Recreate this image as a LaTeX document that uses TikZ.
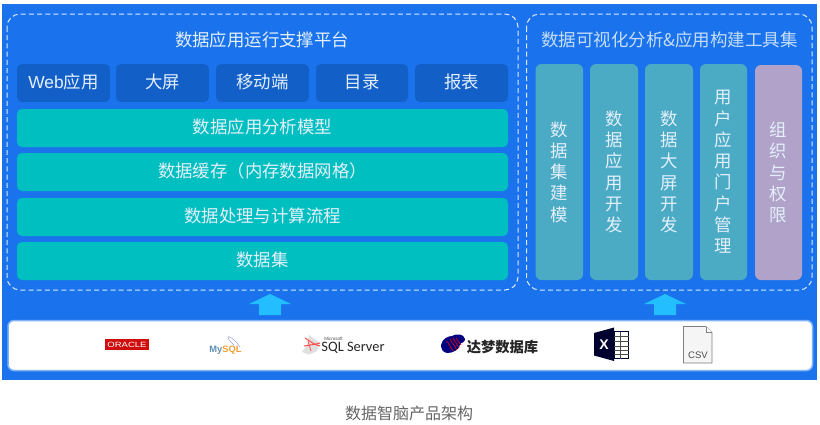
\documentclass[tikz,border=0pt]{standalone}
\usepackage{fontspec}
\setmainfont{Noto Sans CJK SC}
\newfontfamily\latinf{Liberation Sans}
\newfontfamily\carl{Carlito}
\usetikzlibrary{shapes.geometric}
\definecolor{bgblue}{HTML}{1A73EC}
\definecolor{darkbtn}{HTML}{135FC8}
\definecolor{teal}{HTML}{00BFC0}
\definecolor{toolc}{HTML}{4BAAC4}
\definecolor{purp}{HTML}{B0A2C8}
\definecolor{arrowc}{HTML}{22BEFF}
\definecolor{txt}{HTML}{E4F0FC}
\definecolor{captionc}{HTML}{666666}
\tikzset{
  x=1pt,y=-1pt,
  frame/.style={draw=white!85!bgblue,dash pattern=on 5pt off 3.2pt,line width=1pt,rounded corners=13pt},
  btn/.style={fill=darkbtn,rounded corners=5pt},
  bar/.style={fill=teal,draw=teal!70!bgblue,line width=.4pt,rounded corners=5pt},
  tool/.style={fill=toolc,rounded corners=6pt},
  tx/.style={text=txt,font=\fontsize{17.4}{17.4}\selectfont,inner sep=0pt,yshift=.8pt},
  vt/.style={text=txt,font=\fontsize{17.4}{21.3}\selectfont,align=center,inner sep=0pt},
  up/.style={fill=arrowc}
}
\newcommand{\boxn}[6]{\path[#1] (#3,#4) rectangle (#5,#6) node[pos=.5,inner sep=0pt] (#2) {};}
\begin{document}
\begin{tikzpicture}
\useasboundingbox (0,0) rectangle (820,424);
\fill[white] (0,0) rectangle (820,424);
\fill[bgblue] (2,4) rectangle (817,379.5);
\draw[frame] (7,14) rectangle (518,290);
\draw[frame] (526.5,14) rectangle (812,290);
\node[tx] (t1) at (262,41) {数据应用运行支撑平台};
\node[tx,text=txt!85!bgblue,font=\fontsize{17.5}{17.5}\selectfont] (t2) at (669.5,41) {数据可视化分析\&应用构建工具集};
% buttons
\boxn{btn}{b1}{17}{64}{110}{102}
\boxn{btn}{b2}{116}{64}{209}{102}
\boxn{btn}{b3}{216}{64}{309}{102}
\boxn{btn}{b4}{316}{64}{408}{102}
\boxn{btn}{b5}{415}{64}{508}{102}
\node[tx] at (b1) {{\latinf Web}应用};
\node[tx] at (b2) {大屏};
\node[tx] at (b3) {移动端};
\node[tx] at (b4) {目录};
\node[tx] at (b5) {报表};
% bars
\boxn{bar}{r1}{17}{109}{508}{147}
\boxn{bar}{r2}{17}{153}{508}{191}
\boxn{bar}{r3}{17}{198}{508}{236}
\boxn{bar}{r4}{17}{242}{508}{280}
\node[tx] at (r1) {数据应用分析模型};
\node[tx] at (r2) {数据缓存（内存数据网格）};
\node[tx] at (r3) {数据处理与计算流程};
\node[tx] at (r4) {数据集};
% tool columns
\boxn{tool}{c1}{535.5}{64}{583}{280}
\boxn{tool}{c2}{590}{64}{638}{280}
\boxn{tool}{c3}{645}{64}{693}{280}
\boxn{tool}{c4}{700}{64}{747}{280}
\boxn{fill=purp,rounded corners=6pt}{c5}{755}{65}{802}{280}
\node[vt] at (c1) {数\\据\\集\\建\\模};
\node[vt] at (c2) {数\\据\\应\\用\\开\\发};
\node[vt] at (c3) {数\\据\\大\\屏\\开\\发};
\node[vt] at (c4) {用\\户\\应\\用\\门\\户\\管\\理};
\node[vt] at (c5) {组\\织\\与\\权\\限};
% arrows
\coordinate (a1t) at (270,294);
\coordinate (a2t) at (665,294);
\fill[up] (a1t) -- ++(21,10) -- ++(-10,0) -- ++(0,11) -- ++(-22,0) -- ++(0,-11) -- ++(-10,0) -- cycle;
\fill[up] (a2t) -- ++(21,10) -- ++(-10,0) -- ++(0,11) -- ++(-22,0) -- ++(0,-11) -- ++(-10,0) -- cycle;
% source band
\draw[fill=white,draw=white!45!bgblue,line width=1.5pt,rounded corners=6pt] (8,320.5) rectangle (812.5,370.5);
% Oracle
\fill[red!80!black!95!white] (105.3,339) rectangle (148.7,350);
\node[inner sep=0pt,text=white,font=\latinf\fontsize{7.6}{7.6}\selectfont,xscale=1.25] (ora) at (127,344.6) {ORACLE};
% MySQL
\node[inner sep=0pt,font=\latinf\bfseries\fontsize{9.3}{9.3}\selectfont] (my) at (225.5,350.5) {\textcolor[HTML]{5F8FB4}{My}\textcolor[HTML]{F0A030}{SQL}};
\draw[draw=gray!50!blue!50!white,line width=.5pt] (228,336.5) .. controls (233,338) and (236,341) .. (240,347);
\draw[draw=gray!50!blue!50!white,line width=.5pt] (228,336.5) .. controls (228,340) and (231,342) .. (234,345);
% SQL Server
\fill[gray!25] (302,352) -- (307,345) -- (309,335) -- (320,343) -- (317,351) -- (309,354.5) -- cycle;
\draw[red!60!pink,line width=1pt] (305,338) .. controls (311,342) and (315,345) .. (320,346);
\draw[red!60!pink,line width=1pt] (304,346) .. controls (309,345) and (313,345) .. (320,343);
\draw[red!60!pink,line width=.7pt] (308,341) -- (311,351);
\node[inner sep=0pt,text=black!85,font=\carl\fontsize{14.4}{14.4}\selectfont] (sql) at (353,347.5) {SQL Server};
\node[inner sep=0pt,text=black!70,font=\latinf\fontsize{4.5}{4.5}\selectfont] (ms) at (333.5,338.5) {Microsoft};
% Dameng
\fill[blue!50!black] (441,345) .. controls (442,339) and (448,336) .. (452,336) .. controls (456,333.5) and (464,333.5) .. (465,339) .. controls (465.5,342) and (461,343) .. (460,344) .. controls (461,349) and (452,353.5) .. (447,353) .. controls (443,352.5) and (441,349) .. (441,345) -- cycle;
\draw[red!85!black,line width=.7pt] (450,339) -- (457,350) (453,338) -- (459,348) (447,341) -- (453,351) (456,338) -- (461,345);
\node[inner sep=0pt,text=black!85,font=\bfseries\fontsize{14.3}{14.3}\selectfont] (dm) at (502.5,347) {达梦数据库};
% Excel
\fill[black!82!blue] (594,333) -- (614,327.5) -- (614,361) -- (594,355.5) -- cycle;
\node[inner sep=0pt,text=white,font=\latinf\bfseries\fontsize{14}{14}\selectfont] (xl) at (604,344.5) {X};
\draw[black!82!blue,line width=.9pt] (614,331.5) rectangle (628.5,358.5);
\foreach \yy in {336,341,346,350,354} \draw[black!70,line width=.5pt] (614,\yy) -- (628.5,\yy);
\draw[black!70,line width=.5pt] (620,331.5) -- (620,358.5);
% CSV
\draw[gray,fill=black!4,line width=.7pt] (683.5,326.5) -- (706,326.5) -- (712,332.5) -- (712,363) -- (683.5,363) -- cycle;
\draw[gray,fill=white,line width=.5pt] (706,326.5) -- (706,332.5) -- (712,332.5);
\node[inner sep=0pt,text=black!70,font=\latinf\fontsize{9.5}{9.5}\selectfont] (csv) at (698,355) {CSV};
% caption
\node[inner sep=0pt,text=captionc,font=\fontsize{16}{16}\selectfont] (cap) at (409,413.5) {数据智脑产品架构};
\end{tikzpicture}
\end{document}
